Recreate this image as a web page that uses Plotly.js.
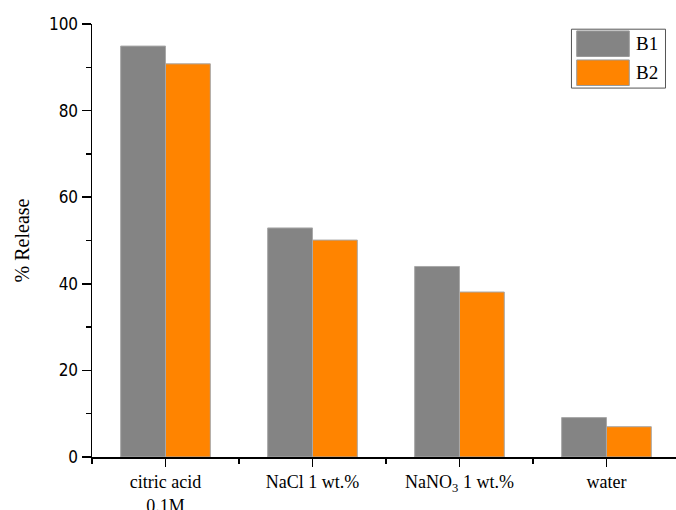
<!DOCTYPE html>
<html>
<head>
<meta charset="utf-8">
<script src="https://cdn.plot.ly/plotly-3.0.1.min.js"></script>
<style>
  html, body { margin: 0; padding: 0; background: #fff; overflow: hidden; }
  #chart { width: 676px; height: 510px; }
</style>
</head>
<body>
<div id="chart"></div>
<script>
// Release percentages in each medium
const categories = ['citric acid<br>0.1M', 'NaCl 1 wt.%', 'NaNO<sub>3</sub> 1 wt.%', 'water'];
const seriesNames = ['B1', 'B2'];
const b1Values = [94.9, 52.9, 44.0, 9.1];
const b2Values = [90.8, 50.1, 38.1, 7.0];
const yTickVals = [0, 20, 40, 60, 80, 100];

const colors = ['#848484', '#ff8400'];
const serif = 'Liberation Serif, Times New Roman, serif';
const sans = 'DejaVu Sans Condensed, DejaVu Sans, sans-serif';

const xPos = categories.map((_, i) => i);

const traces = [b1Values, b2Values].map((vals, k) => ({
  type: 'bar',
  name: seriesNames[k],
  x: xPos,
  y: vals,
  marker: { color: colors[k], line: { color: '#a8a8a8', width: 1 } },
  hoverinfo: 'y+name'
}));

// Legend box drawn as shapes so the swatches are wide blocks
const legendShapes = [
  { type: 'rect', xref: 'paper', yref: 'paper', x0: 0.821, x1: 0.982, y0: 0.852, y1: 0.988,
    line: { color: '#555', width: 1 }, fillcolor: '#fff' },
  { type: 'rect', xref: 'paper', yref: 'paper', x0: 0.830, x1: 0.920, y0: 0.925, y1: 0.984,
    line: { color: '#999', width: 1 }, fillcolor: colors[0] },
  { type: 'rect', xref: 'paper', yref: 'paper', x0: 0.830, x1: 0.920, y0: 0.858, y1: 0.917,
    line: { color: '#999', width: 1 }, fillcolor: colors[1] }
];
const legendLabels = seriesNames.map((n, k) => ({
  xref: 'paper', yref: 'paper', x: 0.928, y: k === 0 ? 0.954 : 0.888,
  xanchor: 'left', yanchor: 'middle', showarrow: false, text: n,
  font: { family: serif, size: 19, color: '#000' }
}));

const layout = {
  width: 676, height: 510,
  margin: { l: 92, r: 0, t: 24, b: 53 },
  paper_bgcolor: '#fff', plot_bgcolor: '#fff',
  barmode: 'group', bargap: 0.39, bargroupgap: 0,
  showlegend: false,
  xaxis: {
    range: [-0.5, 3.473],
    tickmode: 'array', tickvals: xPos, ticktext: categories,
    ticks: 'outside', ticklen: 8, tickwidth: 1.5, tickcolor: '#000',
    minor: { tick0: 0.5, dtick: 1, ticks: 'outside', ticklen: 5, tickwidth: 1.5, tickcolor: '#000' },
    showline: true, linecolor: '#000', linewidth: 1.5,
    showgrid: false, zeroline: false, fixedrange: true,
    tickfont: { family: serif, size: 18, color: '#000' }
  },
  yaxis: {
    range: [0, 100],
    tickmode: 'array', tickvals: yTickVals,
    ticks: 'outside', ticklen: 9, tickwidth: 1.5, tickcolor: '#000',
    minor: { tick0: 10, dtick: 20, ticks: 'outside', ticklen: 5, tickwidth: 1.5, tickcolor: '#000' },
    showline: true, linecolor: '#000', linewidth: 1.5,
    showgrid: false, zeroline: false, fixedrange: true,
    tickfont: { family: sans, size: 17, color: '#000' },
    title: { text: '% Release', font: { family: serif, size: 20, color: '#000' }, standoff: 14 }
  },
  shapes: legendShapes,
  annotations: legendLabels
};

Plotly.newPlot('chart', traces, layout, { displayModeBar: false, staticPlot: true });
</script>
</body>
</html>
